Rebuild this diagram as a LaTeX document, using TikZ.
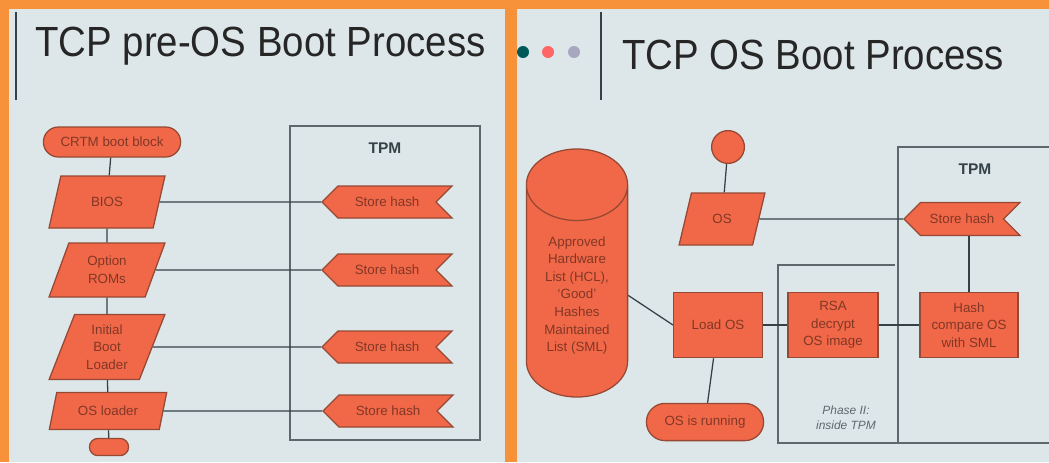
\documentclass[tikz,border=0pt]{standalone}
\usepackage{fontspec}
\setmainfont{Liberation Sans}
\usetikzlibrary{shapes.geometric,shapes.misc,shapes.symbols,positioning}

\definecolor{slidebg}{RGB}{221,231,234}
\definecolor{framecol}{RGB}{247,145,58}
\definecolor{boxfill}{RGB}{241,104,72}
\definecolor{boxline}{RGB}{150,72,52}
\definecolor{boxtext}{RGB}{130,55,38}
\definecolor{linecol}{RGB}{52,66,72}

\begin{document}
\begin{tikzpicture}[x=0.025cm,y=-0.025cm,node distance=7cm,
            line width=0.9pt,
            box/.style={draw=boxline,fill=boxfill,text=boxtext,align=center,inner sep=1pt,
                font=\fontsize{9.5}{12.5}\selectfont},
            io node/.style={box,trapezium,trapezium left angle=70,trapezium right angle=110,
                trapezium stretches=true},
            term node/.style={box,rounded rectangle},
            proc node/.style={box,rectangle},
            hash node/.style={box,signal,signal to=west,signal from=east,
                minimum width=3.25cm,minimum height=0.8cm},
            tpm box/.style={draw=linecol!80,line width=1pt},
            tpm label/.style={font=\bfseries\fontsize{11}{13}\selectfont,text=linecol},
            title/.style={anchor=west,text=black!85,font=\fontsize{30}{36}\selectfont}]

        % Slide background and frame
        \fill[slidebg] (0,0) rectangle (1049,462);
        \useasboundingbox (0,0) rectangle (1049,462);
        \fill[framecol] (0,0) rectangle (1049,9);
        \fill[framecol] (0,0) rectangle (9,462);
        \fill[framecol] (505,0) rectangle (517,462);
        \draw[linecol,line width=1.6pt] (16,12) -- (16,100);
        \draw[linecol,line width=1.6pt] (601,12) -- (601,100);
        \fill[teal!70!black] (523,52) circle (6);
        \fill[red!60!white] (548,52) circle (6);
        \fill[blue!15!gray!60] (574,52) circle (6);

        % Titles
        \node[title] (t1) at (30,46) {\scalebox{0.91}[1]{TCP pre-OS Boot Process}};
        \node[title] (t2) at (617,55) {\scalebox{0.91}[1]{TCP OS Boot Process}};

        % TPM containers
        \node[tpm box,minimum width=4.75cm,minimum height=7.85cm] (tpm1) at (385,283) {};
        \node[tpm label] (tpmlab1) [below=0.3cm of tpm1.north] {TPM};
        \node[tpm box,minimum width=4.05cm,minimum height=7.4cm] (tpm2) at (979,295) {};
        \node[tpm label,xshift=-0.1cm] (tpmlab2) [below=0.3cm of tpm2.north] {TPM};
        \draw[tpm box] (895,265) -| (778,443) -- (898,443);
        \node[font=\itshape\fontsize{8.5}{10.5}\selectfont,text=linecol!80,align=center]
            (phase) at (846,418) {Phase II:\\inside TPM};

        % Define vertices (pre-OS)
        \node[term node,minimum width=3.5cm,minimum height=0.75cm] (crtm) at (112,142) {CRTM boot block};
        \node[io node,minimum width=2.9cm,minimum height=1.3cm] (bios) at (107,202) {BIOS};
        \node[io node,minimum width=2.9cm,minimum height=1.35cm] (rom) at (107,270) {Option\\ROMs};
        \node[io node,minimum width=2.9cm,minimum height=1.62cm] (ipl) at (107,347) {Initial\\Boot\\Loader};
        \node[io node,minimum width=2.95cm,minimum height=0.93cm] (osl) at (108,411) {OS loader};
        \node[term node,minimum width=1.05cm,minimum height=0.43cm] (stop) at (109,447) {};
        \node[hash node] (h1) [right of=bios] {Store hash};
        \node[hash node] (h2) [right of=rom] {Store hash};
        \node[hash node] (h3) [right of=ipl] {Store hash};
        \node[hash node] (h4) [right of=osl] {Store hash};

        % Define vertices (OS)
        \node[box,cylinder,shape border rotate=90,aspect=1.05,minimum width=2.53cm,
            minimum height=6.2cm,anchor=shape center] (db) at (577,273)
            {Approved\\Hardware\\List (HCL),\\`Good'\\Hashes\\Maintained\\List (SML)};
        \node[box,circle,minimum size=0.82cm] (start) at (728,147) {};
        \node[io node,minimum width=2.15cm,minimum height=1.3cm] (osin) at (722,219) {OS};
        \node[proc node,minimum width=2.22cm,minimum height=1.63cm] (load) at (718,325) {Load OS};
        \node[term node,minimum width=3cm,minimum height=0.93cm] (run) at (705,422) {OS is running};
        \node[proc node,minimum width=2.25cm,minimum height=1.63cm] (rsa) at (833,325) {RSA\\decrypt\\OS image};
        \node[proc node,minimum width=2.45cm,minimum height=1.63cm] (cmp) at (969,325) {Hash\\compare OS\\with SML};
        \node[hash node,minimum width=2.9cm,minimum height=0.83cm] (h5) at (962,219) {Store hash};

        % Draw edges
        \path[draw=linecol]
            (crtm) edge (bios)
            (bios) edge (rom)
            (rom) edge (ipl)
            (ipl) edge (osl)
            (osl) edge (stop)
            (bios) edge (h1)
            (rom) edge (h2)
            (ipl) edge (h3)
            (osl) edge (h4)
            (start) edge (osin)
            (osin) edge (h5)
            (db.east) edge (load.west)
            (load) edge (rsa)
            (rsa) edge (cmp)
            (load) edge (run)
            (cmp.north) edge (cmp.north |- h5.south);

        \end{tikzpicture}
\end{document}
